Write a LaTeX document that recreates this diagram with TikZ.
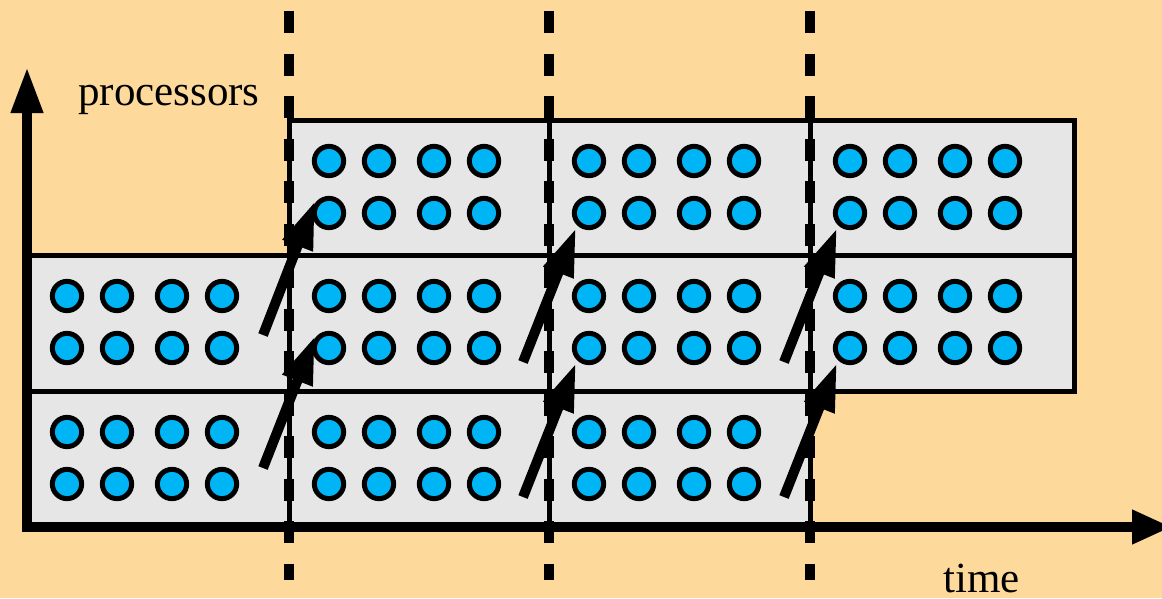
\documentclass[tikz,border=0pt]{standalone}
\usepackage{fontspec}
\setmainfont{Liberation Serif}
\usetikzlibrary{arrows.meta}
\definecolor{bg}{HTML}{FDD99B}
\definecolor{cell}{HTML}{E6E6E6}
\definecolor{proc}{HTML}{00B5F5}
\begin{document}
\begin{tikzpicture}[x=1pt,y=-1pt,
  cellbox/.style={draw=black,line width=5pt,fill=cell},
  procdot/.style={circle,draw=black,line width=5pt,fill=proc,minimum size=29.3pt,inner sep=0pt},
  boundary/.style={line width=10pt,dash pattern=on 22pt off 20.5pt,line cap=butt},
  move/.style={line width=10pt,-{Triangle[length=48pt,width=30pt]}},
  axis/.style={line width=10pt,line join=miter,{Triangle[length=46pt,width=30pt]}-{Triangle[length=40pt,width=32pt]}},
  lbl/.style={inner sep=0pt,anchor=base west,font=\fontsize{43}{50}\selectfont}]
\fill[bg] (0,0) rectangle (1162,598);
\useasboundingbox (0,0) rectangle (1162,598);
% cells: left/right/top/bottom
\foreach \xa/\xb/\ya/\yb [count=\i] in {27/289/391/527, 289/549/391/527, 549/810/391/527,
    27/289/255/391, 289/549/255/391, 549/810/255/391, 810/1074/255/391,
    289/549/120/255, 549/810/120/255, 810/1074/120/255}{
  \draw[cellbox] (\xa,\ya) rectangle (\xb,\yb);
  \foreach \dx [count=\j] in {40,90,145,195}{
    \foreach \dy [count=\k] in {41,93}{
      \node[procdot] (p-\i-\j-\k) at (\xa+\dx,\ya+\dy) {};
    }
  }
}
% boundaries
\foreach \x [count=\i] in {289,549,810}{
  \coordinate (bt\i) at (\x,11);
  \coordinate (bb\i) at (\x,580);
  \draw[boundary] (bt\i) -- (bb\i);
}
% migration arrows
\foreach \tx/\ty/\hx/\hy [count=\i] in {263/335/315/201, 263/468/315/336,
    523/362/576/228, 523/497/576/363, 784/362/837/228, 784/497/837/363}{
  \coordinate (mt\i) at (\tx,\ty);
  \coordinate (mh\i) at (\hx,\hy);
  \draw[move] (mt\i) -- (mh\i);
}
% axes
\coordinate (ytip) at (27,67);
\coordinate (orig) at (27,527);
\coordinate (xtip) at (1172,527);
\draw[axis] (ytip) -- (orig) -- (xtip);
\node[lbl] (plabel) at (78,105) {processors};
\node[lbl] (tlabel) at (943,592) {time};
\end{tikzpicture}
\end{document}
